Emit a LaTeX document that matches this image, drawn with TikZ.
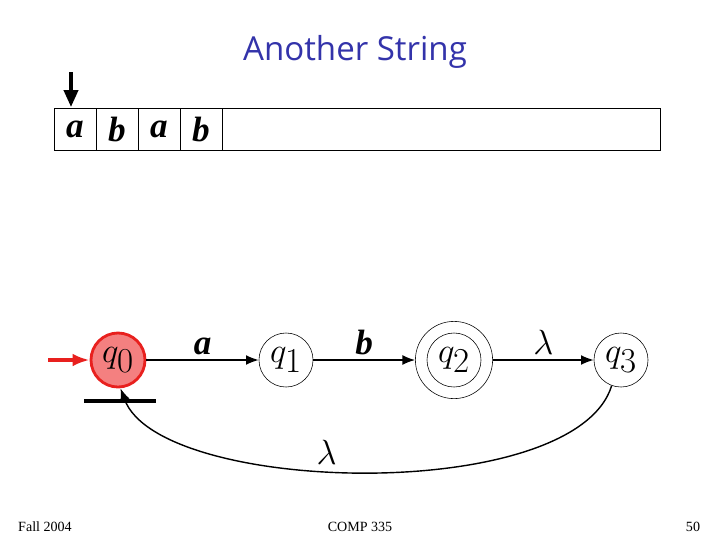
\documentclass[tikz,border=0pt]{standalone}
\usepackage{fontspec}
\setmainfont{Liberation Serif}
\newfontfamily\titlefont{Open Sans}
\usetikzlibrary{positioning, arrows.meta}
\definecolor{titleblue}{RGB}{51,51,170}
\definecolor{startred}{RGB}{232,32,30}
\definecolor{startfill}{RGB}{244,128,128}

\begin{document}
\begin{tikzpicture}[
    x=0.025cm, y=-0.025cm,
    node distance=2cm,
    qstate/.style={draw, circle, minimum size=1.35cm, inner sep=0pt, font=\fontsize{36}{36}\selectfont},
    tapecell/.style={draw, rectangle, outer sep=0pt, minimum width=1.05cm, minimum height=1.05cm, inner sep=0pt, font=\fontsize{25}{25}\selectfont\bfseries\itshape},
    sym/.style={font=\fontsize{25}{25}\selectfont\bfseries\itshape},
    move/.style={-{Latex[length=9pt, width=7pt]}, line width=1pt}
]
\useasboundingbox (0,0) rectangle (720,540);

\node[font=\titlefont\fontsize{23.5}{23.5}\selectfont, text=titleblue] (title) at (355,52) {Another String};

% tape and head
\node[tapecell] (c1) at (75,129) {a};
\node[tapecell, right=0pt of c1] (c2) {b};
\node[tapecell, right=0pt of c2] (c3) {a};
\node[tapecell, right=0pt of c3] (c4) {b};
\node[draw, rectangle, outer sep=0pt, minimum width=10.95cm, minimum height=1.05cm, right=0pt of c4] (rest) {};

\coordinate (headtop) at (71,72);
\coordinate (headtip) at (71,107);
\draw[-{Triangle[length=12pt, width=10pt]}, line width=2.5pt] (headtop) -- (headtip);

% automaton
\node[qstate, draw=startred, fill=startfill, line width=2pt] (q0) at (118,360) {$q_0$};
\node[qstate] (q1) at (286,360) {$q_1$};
\node[qstate] (q2) at (454,360) {$q_2$};
\node[draw, circle, minimum size=1.93cm, inner sep=0pt] (q2ring) at (q2) {};
\node[qstate] (q3) at (621,360) {$q_3$};

\coordinate (start) at (48,360);
\draw[-{Latex[length=12pt, width=9pt]}, startred, line width=2.5pt] (start) -- (q0);

\draw[line width=3.5pt] (84,401) -- (156,401);

\draw[move] (q0) -- node[above, sym] {a} (q1);
\draw[move] (q1) -- node[above, sym] {b} (q2ring);
\draw[move] (q2ring) -- node[above, sym] {$\lambda$} (q3);
\draw[move] (q3.250) .. controls (575,505) and (160,495) .. (q0.275)
    node[pos=0.56, above, sym] {$\lambda$};

% footer
\node[font=\fontsize{10}{10}\selectfont] (term) at (45,527) {Fall 2004};
\node[font=\fontsize{10}{10}\selectfont] (course) at (360,527) {COMP 335};
\node[font=\fontsize{10}{10}\selectfont] (page) at (693,527) {50};
\end{tikzpicture}
\end{document}
